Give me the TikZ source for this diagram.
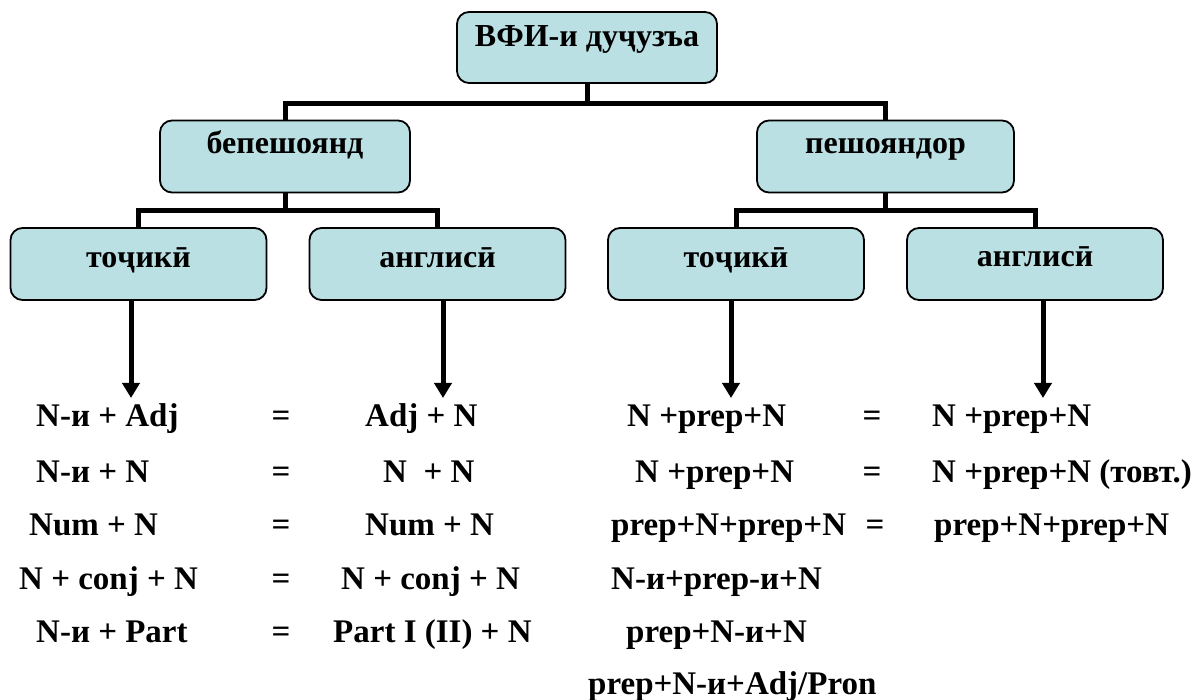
\documentclass[tikz,border=0pt]{standalone}
\usepackage{fontspec}
\setmainfont{Liberation Serif}
\usetikzlibrary{arrows.meta}
\definecolor{boxblue}{RGB}{187,224,227}
\tikzset{
	box/.style={draw, line width=1.8pt, rounded corners=12pt, fill=boxblue, inner xsep=0pt, inner ysep=0pt, minimum width=256pt, font=\bfseries\fontsize{32}{32}\selectfont},
	link/.style={line width=5pt},
	arr/.style={line width=5pt, -{Triangle[width=17pt,length=15pt]}},
	row/.style={anchor=base west, inner sep=0pt, font=\bfseries\fontsize{33}{33}\selectfont},
	eq/.style={anchor=base, inner sep=0pt, font=\bfseries\fontsize{33}{33}\selectfont}
}
\begin{document}
\begin{tikzpicture}[x=1pt, y=-1pt]
			%%%%% START %%%%%
			\useasboundingbox (0, 0) rectangle (1194, 700);
			
			\node[box, minimum width=260pt, text height=35pt, text depth=36pt] (root) at (587, 47.5) {ВФИ-и дуҷузъа};
			
			\node[box, minimum width=250pt, text height=33pt, text depth=39pt] (bep) at (285, 156.5) {бепешоянд};
			\node[box, minimum width=257pt, text height=33pt, text depth=39pt] (pesh) at (885.5, 156.5) {пешояндор};
			
			\node[box, text height=40pt, text depth=32pt] (tajL) at (138.5, 264) {тоҷикӣ};
			\node[box, text height=40pt, text depth=32pt] (engL) at (437.5, 264) {англисӣ};
			\node[box, text height=40pt, text depth=32pt] (tajR) at (736, 264) {тоҷикӣ};
			\node[box, text height=39pt, text depth=33pt] (engR) at (1035, 264) {англисӣ};
			
			\draw[link] (root.south) -- ++(0, 20) -| (bep.north);
			\draw[link] (root.south) -- ++(0, 20) -| (pesh.north);
			\draw[link] (bep.south) -- ++(0, 17) -| (tajL.north);
			\draw[link] (bep.south) -- ++(0, 17) -| (engL.north);
			\draw[link] (pesh.south) -- ++(0, 17) -| (tajR.north);
			\draw[link] (pesh.south) -- ++(0, 17) -| (engR.north);
			
			\coordinate (tipA) at (131, 398);
			\coordinate (tipB) at (443, 398);
			\coordinate (tipC) at (731, 398);
			\coordinate (tipD) at (1043, 398);
			\draw[arr] (tipA |- tajL.south) -- (tipA);
			\draw[arr] (tipB |- engL.south) -- (tipB);
			\draw[arr] (tipC |- tajR.south) -- (tipC);
			\draw[arr] (tipD |- engR.south) -- (tipD);
			
			% without prepositions
			\node[row] (l1) at (36, 427) {N-и + Adj};
			\node[eq] (le1) at (281, 427) {=};
			\node[row] (m1) at (365, 427) {Adj + N};
			\node[row] (l2) at (36, 482) {N-и + N};
			\node[eq] (le2) at (281, 482) {=};
			\node[row] (m2) at (383, 482) {N\ \ + N};
			\node[row] (l3) at (29, 535) {Num + N};
			\node[eq] (le3) at (281, 535) {=};
			\node[row] (m3) at (365, 535) {Num + N};
			\node[row] (l4) at (19, 589) {N + conj + N};
			\node[eq] (le4) at (281, 589) {=};
			\node[row] (m4) at (341, 589) {N + conj + N};
			\node[row] (l5) at (36, 642) {N-и + Part};
			\node[eq] (le5) at (281, 642) {=};
			\node[row] (m5) at (333, 642) {Part I (II) + N};
			
			% with prepositions
			\node[row] (p1) at (627, 427) {N +prep+N};
			\node[eq] (pe1) at (872, 427) {=};
			\node[row] (q1) at (932, 427) {N +prep+N};
			\node[row] (p2) at (635, 482) {N +prep+N};
			\node[eq] (pe2) at (872, 482) {=};
			\node[row] (q2) at (932, 482) {N +prep+N (товт.)};
			\node[row] (p3) at (611, 535) {prep+N+prep+N};
			\node[eq] (pe3) at (875, 535) {=};
			\node[row] (q3) at (934, 535) {prep+N+prep+N};
			\node[row] (p4) at (611, 589) {N-и+prep-и+N};
			\node[row] (p5) at (626, 642) {prep+N-и+N};
			\node[row] (p6) at (588, 694) {prep+N-и+Adj/Pron};
			%%%%% END %%%%%
\end{tikzpicture}
\end{document}
